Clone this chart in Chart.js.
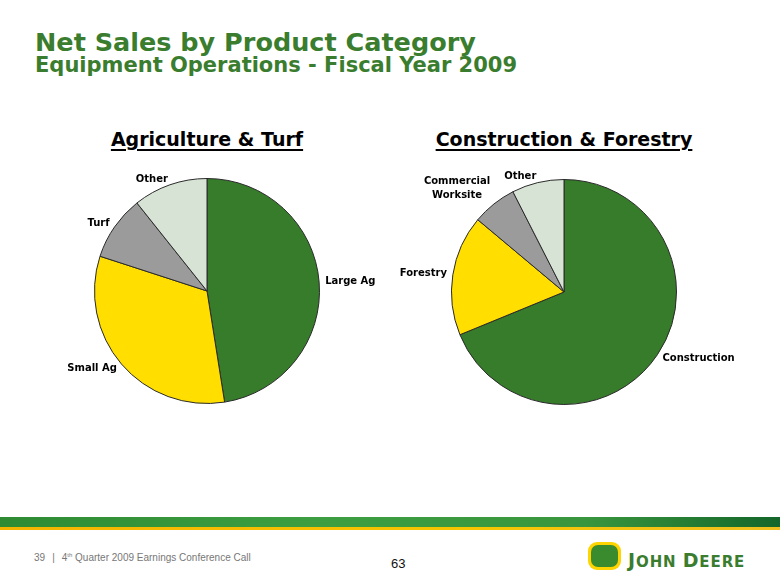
<!DOCTYPE html>
<html>
<head>
<meta charset="utf-8">
<script src="https://cdn.jsdelivr.net/npm/chart.js@4"></script>
<style>
  body { margin: 0; width: 780px; height: 585px; background: #fff; position: relative; overflow: hidden; font-family: "DejaVu Sans", Verdana, sans-serif; }
  .abs { position: absolute; white-space: nowrap; }
  #title { left: 35px; top: 29.5px; font-size: 25.5px; line-height: 25.5px; font-weight: bold; color: #3a7d2e; }
  #subtitle { left: 35px; top: 55px; font-size: 21px; line-height: 21px; font-weight: bold; color: #3a7d2e; }
  .head { top: 127px; font-size: 19px; line-height: 24px; font-weight: bold; color: #000; text-decoration: underline; text-decoration-thickness: 2px; text-underline-offset: 3px; width: 380px; text-align: center; }
  #band { left: 0; top: 517px; width: 780px; height: 10px; background: linear-gradient(to right, #2e8b34 0%, #3d9e41 40%, #39963e 75%, #14662a 100%); }
  #stripe { left: 0; top: 527px; width: 780px; height: 3px; background: linear-gradient(to right, #f5b400, #f7c600 60%, #f0c020); }
  #footer { left: 34px; top: 552px; font-family: "Liberation Sans", Arial, sans-serif; font-size: 10px; color: #777; }
  #footer .bar { margin: 0 7px; }
  #footer sup { font-size: 6px; vertical-align: 4px; }
  #page { left: 391px; top: 556px; font-family: "Liberation Sans", Arial, sans-serif; font-size: 13px; color: #111; }
  #logo { left: 588px; top: 542px; width: 33px; height: 28px; border-radius: 9px; background: #ffd400; }
  #logo div { position: absolute; left: 3px; top: 3px; width: 27px; height: 22px; border-radius: 7px; background: #3a8a2e; }
  #brand { left: 628px; top: 549px; font-size: 15px; font-weight: bold; color: #3a7d2e; letter-spacing: 0.9px; }
  #brand span { font-size: 19px; }
</style>
</head>
<body>
<div id="title" class="abs">Net Sales by Product Category</div>
<div id="subtitle" class="abs">Equipment Operations - Fiscal Year 2009</div>
<div class="abs head" style="left:17px;">Agriculture &amp; Turf</div>
<div class="abs head" style="left:374px;">Construction &amp; Forestry</div>

<canvas id="agChart" class="abs" width="380" height="262" style="left:17px;top:160px;"></canvas>
<canvas id="cfChart" class="abs" width="380" height="262" style="left:374px;top:161px;"></canvas>

<div id="band" class="abs"></div>
<div id="stripe" class="abs"></div>
<div id="footer" class="abs">39<span class="bar">|</span>4<sup>th</sup> Quarter 2009 Earnings Conference Call</div>
<div id="page" class="abs">63</div>
<div id="logo" class="abs"><div></div></div>
<div id="brand" class="abs"><span>J</span>OHN <span>D</span>EERE</div>

<script>
// Agriculture & Turf shares (%), clockwise from 12 o'clock
const agLabels = ['Large Ag', 'Small Ag', 'Turf', 'Other'];
const agValues = [47.5, 32.5, 9.3, 10.7];

// Construction & Forestry shares (%)
const cfLabels = ['Construction', 'Forestry', ['Commercial', 'Worksite'], 'Other'];
const cfValues = [68.8, 17.3, 6.4, 7.5];

const sliceColors = ['#367c2b', '#ffde00', '#9b9b9b', '#d7e4d5'];

// draw the category names just outside each slice
const outsideLabels = {
    id: 'outsideLabels',
    afterDatasetsDraw(chart) {
        const ctx = chart.ctx;
        const labels = chart.data.labels;
        ctx.save();
        ctx.font = 'bold 10px "DejaVu Sans", Verdana, sans-serif';
        ctx.fillStyle = '#000';
        ctx.textBaseline = 'middle';
        chart.getDatasetMeta(0).data.forEach((arc, i) => {
            const p = arc.getProps(['x', 'y', 'startAngle', 'endAngle', 'outerRadius'], true);
            const mid = (p.startAngle + p.endAngle) / 2;
            const r = p.outerRadius + 6;
            const x = p.x + Math.cos(mid) * r;
            const y = p.y + Math.sin(mid) * r;
            const right = Math.cos(mid) >= 0;
            const lines = Array.isArray(labels[i]) ? labels[i] : [labels[i]];
            if (lines.length === 1) {
                ctx.textAlign = right ? 'left' : 'right';
                ctx.fillText(lines[0], x, y);
            } else {
                // multi-line: centred block, anchored on the slice side
                const w = Math.max(...lines.map(l => ctx.measureText(l).width));
                const cx = right ? x + w / 2 : x - w / 2;
                const lh = 14;
                ctx.textAlign = 'center';
                lines.forEach((line, j) => {
                    ctx.fillText(line, cx, y - 4 - (lines.length - 1) * lh + j * lh);
                });
            }
        });
        ctx.restore();
    }
};

function makePie(canvasId, labels, values) {
    return new Chart(document.getElementById(canvasId).getContext('2d'), {
        type: 'pie',
        data: {
            labels: labels,
            datasets: [{
                data: values,
                backgroundColor: sliceColors,
                borderColor: '#2a2a2a',
                borderWidth: 1
            }]
        },
        options: {
            responsive: false,
            animation: false,
            layout: { padding: { left: 77, right: 77, top: 18, bottom: 18 } },
            plugins: {
                legend: { display: false },
                tooltip: { enabled: false }
            }
        },
        plugins: [outsideLabels]
    });
}

makePie('agChart', agLabels, agValues);
makePie('cfChart', cfLabels, cfValues);
</script>
</body>
</html>
